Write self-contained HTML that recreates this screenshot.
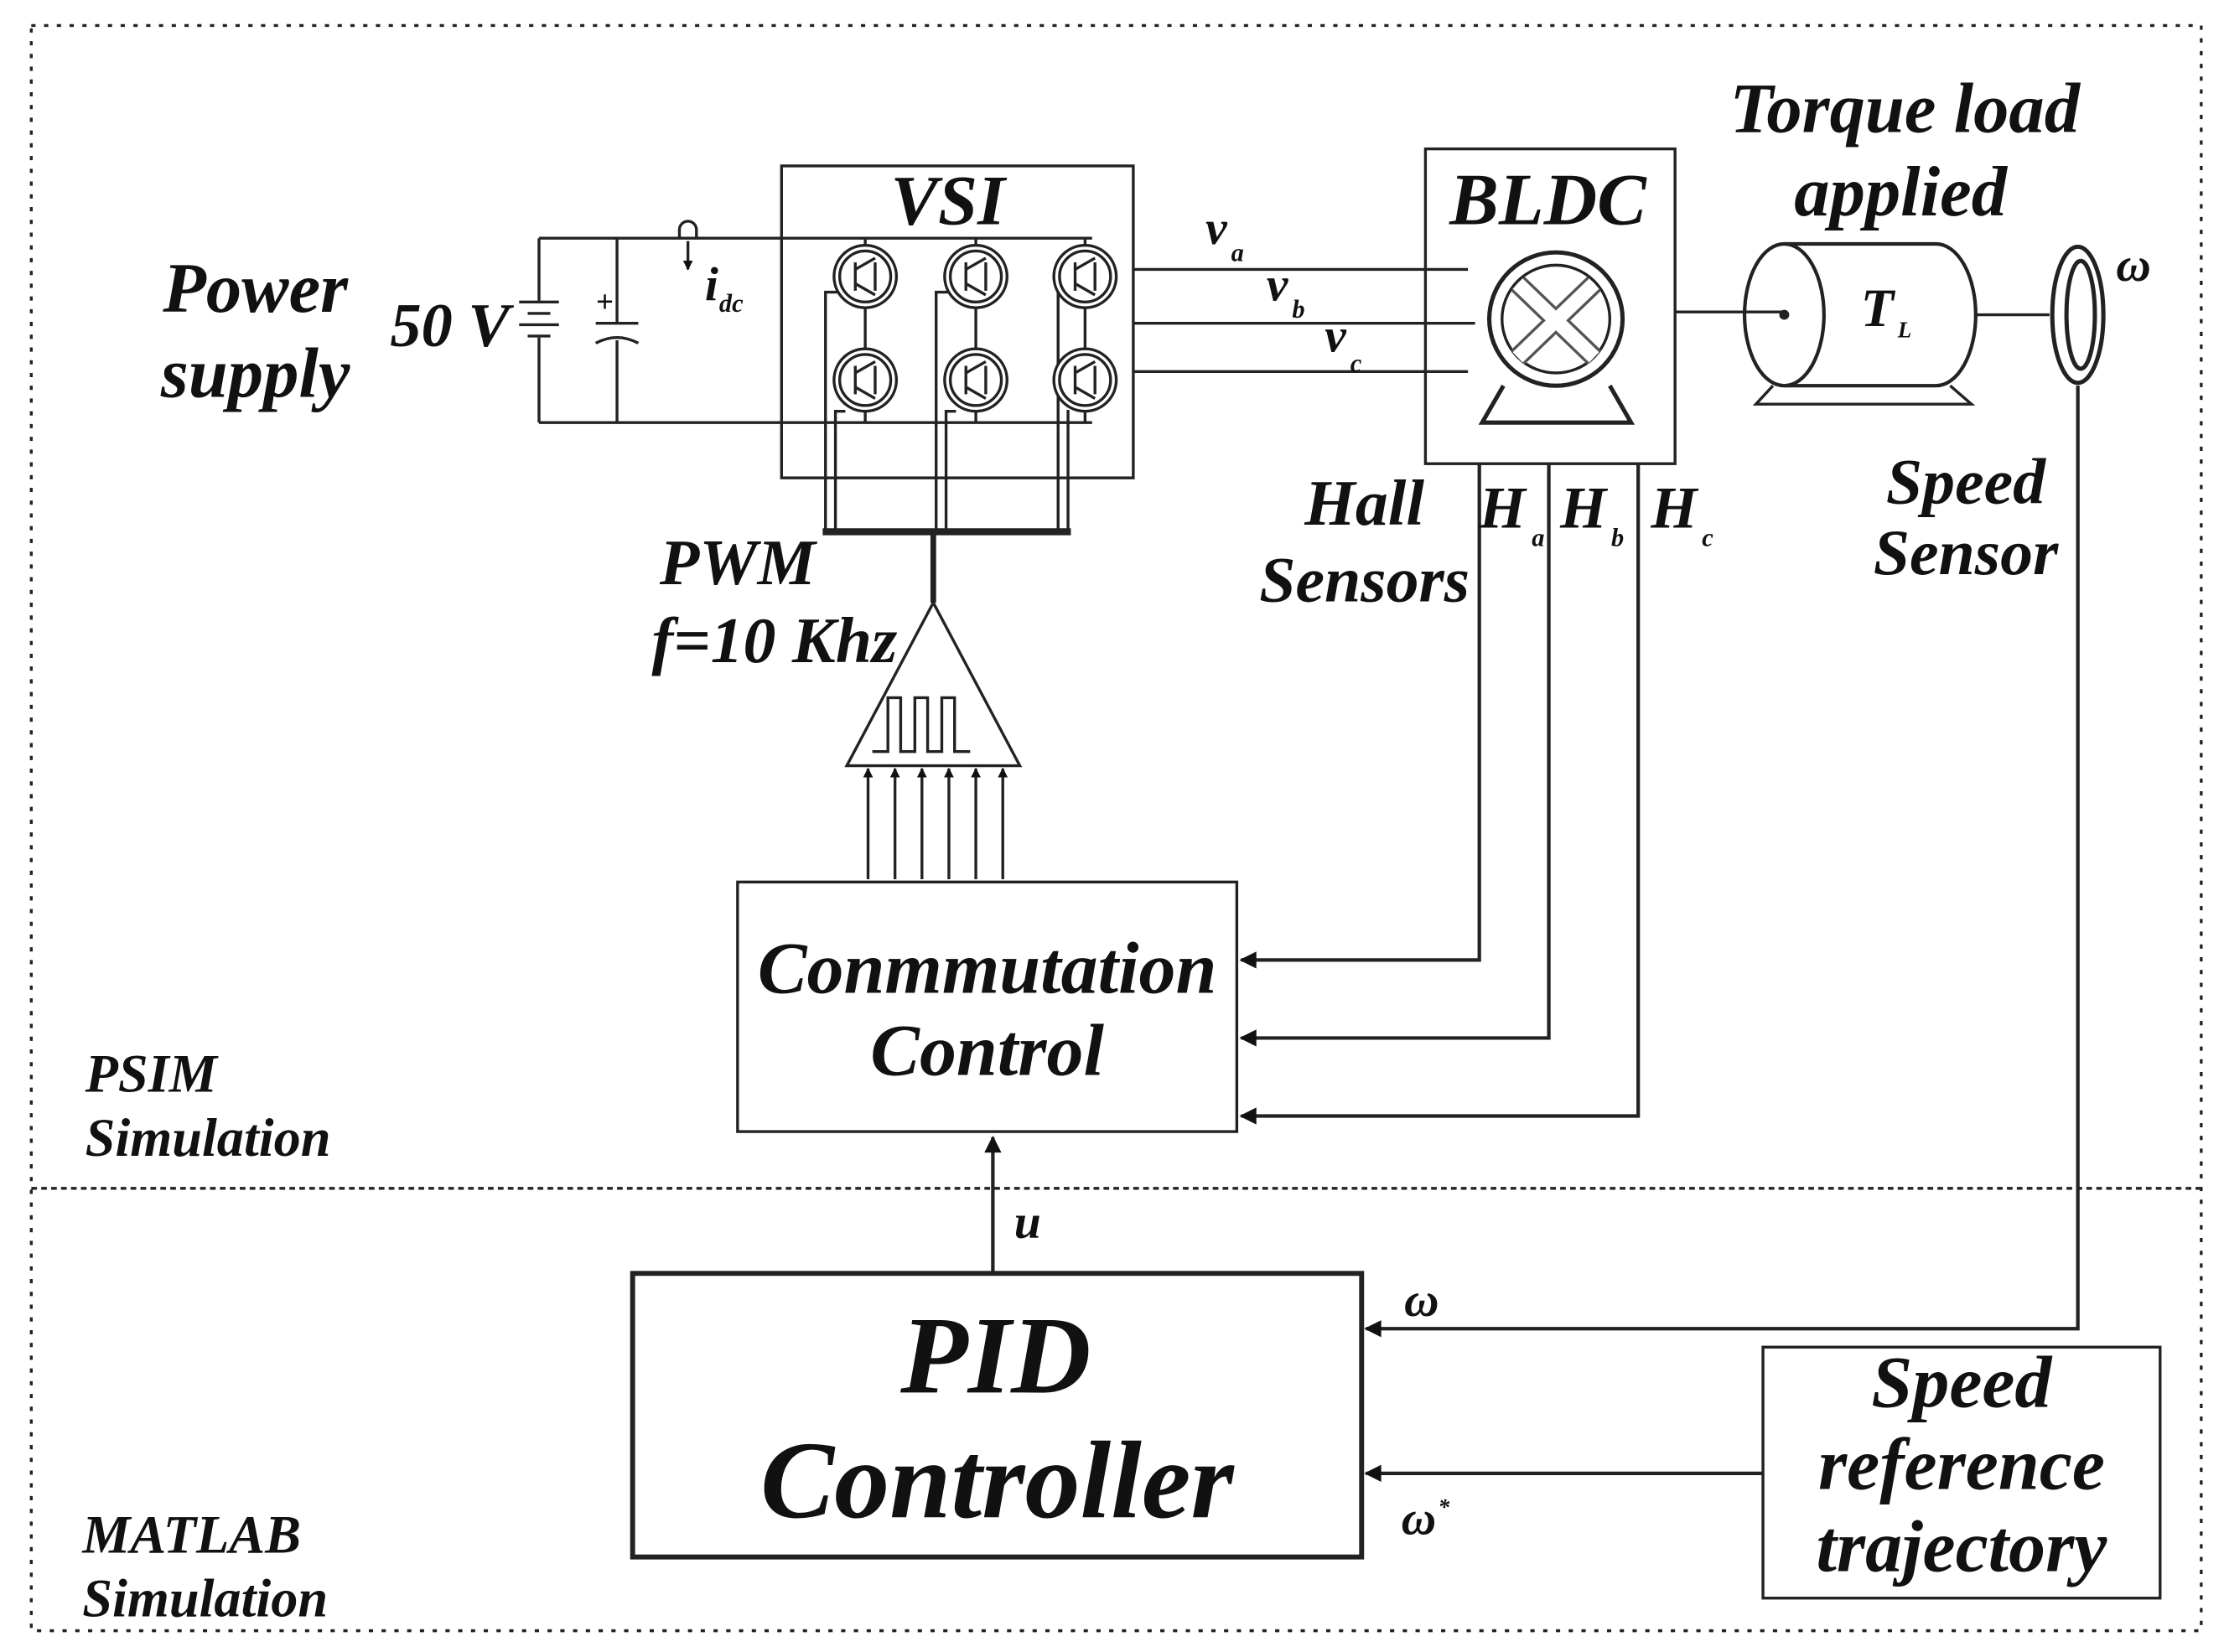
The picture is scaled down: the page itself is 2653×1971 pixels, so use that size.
<!DOCTYPE html>
<html><head><style>html,body{margin:0;padding:0;background:#fff}svg{display:block}</style></head><body>
<svg width="2653" height="1971" viewBox="0 0 1568 1165" xmlns="http://www.w3.org/2000/svg" font-family="Liberation Serif, serif" font-weight="bold" font-style="italic" fill="none" stroke="#222">
<defs><marker id="ar" viewBox="0 0 10 10" refX="9" refY="5" markerWidth="7" markerHeight="9" orient="auto" markerUnits="userSpaceOnUse"><path d="M0,0L10,5L0,10z" fill="#111" stroke="none"/></marker>
<marker id="ar2" viewBox="0 0 10 10" refX="9" refY="5" markerWidth="14" markerHeight="12" orient="auto" markerUnits="userSpaceOnUse"><path d="M0,0L10,5L0,10z" fill="#111" stroke="none"/></marker></defs>
<rect x="22" y="18" width="1530" height="1132" stroke-width="2" stroke-dasharray="3,6"/>
<line x1="22" y1="838" x2="1552" y2="838" stroke-width="2" stroke-dasharray="4,3"/>
<g stroke-width="2">
<line x1="380" y1="168" x2="770" y2="168"/><line x1="380" y1="298" x2="770" y2="298"/>
<line x1="380" y1="168" x2="380" y2="212"/><line x1="380" y1="238" x2="380" y2="298"/>
<line x1="366" y1="213" x2="394" y2="213"/><line x1="372" y1="221" x2="388" y2="221"/><line x1="366" y1="229" x2="394" y2="229"/><line x1="372" y1="237" x2="388" y2="237"/>
<line x1="435" y1="168" x2="435" y2="228"/><line x1="435" y1="240" x2="435" y2="298"/>
<line x1="420" y1="228" x2="450" y2="228"/><path d="M420,242 Q435,234 450,242"/>
<path d="M479,168 V162 A6,6 0 0 1 491,162 V168"/>
</g>
<line x1="485" y1="170" x2="485" y2="190" stroke-width="2" marker-end="url(#ar)"/>
<rect x="551" y="117" width="248" height="220" stroke-width="2"/>
<g stroke-width="2">
<line x1="799" y1="190" x2="1035" y2="190"/><line x1="799" y1="228" x2="1040" y2="228"/><line x1="799" y1="262" x2="1035" y2="262"/>
<line x1="610" y1="168" x2="610" y2="298"/><line x1="688" y1="168" x2="688" y2="298"/><line x1="765" y1="168" x2="765" y2="298"/>
<path d="M582,375 V206 H596"/><path d="M589,375 V290 H596"/>
<path d="M660,375 V206 H674"/><path d="M667,375 V290 H674"/>
<path d="M746,375 V206 H752"/><path d="M753,375 V290 H752"/>
</g>
<g fill="#fff" stroke-width="2">
<circle cx="610" cy="195" r="22"/><circle cx="688" cy="195" r="22"/><circle cx="765" cy="195" r="22"/>
<circle cx="610" cy="268" r="22"/><circle cx="688" cy="268" r="22"/><circle cx="765" cy="268" r="22"/>
<circle cx="610" cy="195" r="18"/><circle cx="688" cy="195" r="18"/><circle cx="765" cy="195" r="18"/>
<circle cx="610" cy="268" r="18"/><circle cx="688" cy="268" r="18"/><circle cx="765" cy="268" r="18"/>
</g>
<g stroke-width="2">
<path d="M603,185V205M603,190L617,182M603,200L617,208M617,185V205"/>
<path d="M681,185V205M681,190L695,182M681,200L695,208M695,185V205"/>
<path d="M758,185V205M758,190L772,182M758,200L772,208M772,185V205"/>
<path d="M603,258V278M603,263L617,255M603,273L617,281M617,258V278"/>
<path d="M681,258V278M681,263L695,255M681,273L695,281M695,258V278"/>
<path d="M758,258V278M758,263L772,255M758,273L772,281M772,258V278"/>
</g>
<line x1="580" y1="375" x2="755" y2="375" stroke-width="5"/>
<line x1="658" y1="375" x2="658" y2="425" stroke-width="4"/>
<path d="M658,425 L719,540 L597,540 Z" stroke-width="2"/>
<path d="M615,530 H626 V492 H635 V530 H645 V492 H654 V530 H664 V492 H673 V530 H684" stroke-width="2"/>
<g stroke-width="2">
<line x1="612" y1="620" x2="612" y2="542" marker-end="url(#ar)"/><line x1="631" y1="620" x2="631" y2="542" marker-end="url(#ar)"/>
<line x1="650" y1="620" x2="650" y2="542" marker-end="url(#ar)"/><line x1="669" y1="620" x2="669" y2="542" marker-end="url(#ar)"/>
<line x1="688" y1="620" x2="688" y2="542" marker-end="url(#ar)"/><line x1="707" y1="620" x2="707" y2="542" marker-end="url(#ar)"/>
</g>
<rect x="1005" y="105" width="176" height="222" stroke-width="2"/>
<circle cx="1097" cy="225" r="47" stroke-width="3"/><circle cx="1097" cy="225" r="38" stroke-width="2"/>
<path d="M1070,200 L1124,252 M1124,200 L1070,252" stroke-width="14" stroke="#555"/>
<path d="M1070,200 L1124,252 M1124,200 L1070,252" stroke-width="10" stroke="#fff"/>
<path d="M1060,272 L1045,298 H1150 L1135,272" stroke-width="3"/>
<line x1="1181" y1="220" x2="1258" y2="220" stroke-width="2"/>
<path d="M1258,172 H1365 A28,50 0 0 1 1365,272 H1258" stroke-width="2.5"/>
<ellipse cx="1258" cy="222" rx="28" ry="50" stroke-width="2.5"/>
<circle cx="1258" cy="222" r="3" fill="#222"/>
<path d="M1250,272 L1238,285 H1390 L1375,272" stroke-width="2"/>
<line x1="1393" y1="222" x2="1445" y2="222" stroke-width="2"/>
<ellipse cx="1465" cy="222" rx="18" ry="48" stroke-width="3"/><ellipse cx="1467" cy="222" rx="10" ry="38" stroke-width="3"/>
<g stroke-width="2.5">
<path d="M1043,327 V677 H875" marker-end="url(#ar2)"/>
<path d="M1092,327 V732 H875" marker-end="url(#ar2)"/>
<path d="M1155,327 V787 H875" marker-end="url(#ar2)"/>
<path d="M1465,272 V937 H963" marker-end="url(#ar2)"/>
<path d="M1243,1039 H963" marker-end="url(#ar2)"/>
<path d="M700,898 V802" marker-end="url(#ar2)"/>
</g>
<rect x="520" y="622" width="352" height="176" stroke-width="2"/>
<rect x="446" y="898" width="514" height="200" stroke-width="3.5"/>
<rect x="1243" y="950" width="280" height="177" stroke-width="2"/>
<g fill="#111" stroke="none">
<text x="180" y="220" font-size="50" text-anchor="middle">Power</text>
<text x="180" y="280" font-size="50" text-anchor="middle">supply</text>
<text x="275" y="244" font-size="44">50 V</text>
<text x="420" y="220" font-size="22">+</text>
<text x="497" y="212" font-size="34">i</text><text x="507" y="220" font-size="18">dc</text>
<text x="628" y="158" font-size="50">VSI</text>
<text x="850" y="172" font-size="34">v</text><text x="868" y="184" font-size="18">a</text>
<text x="893" y="212" font-size="34">v</text><text x="911" y="224" font-size="18">b</text>
<text x="934" y="248" font-size="34">v</text><text x="952" y="262" font-size="18">c</text>
<text x="1022" y="158" font-size="52">BLDC</text>
<text x="1343" y="93" font-size="50" text-anchor="middle">Torque load</text>
<text x="1340" y="152" font-size="50" text-anchor="middle">applied</text>
<text x="1312" y="230" font-size="38">T</text><text x="1338" y="238" font-size="16">L</text>
<text x="1492" y="198" font-size="34">ω</text>
<text x="1386" y="355" font-size="46" text-anchor="middle">Speed</text>
<text x="1386" y="405" font-size="46" text-anchor="middle">Sensor</text>
<text x="962" y="370" font-size="46" text-anchor="middle">Hall</text>
<text x="962" y="424" font-size="46" text-anchor="middle">Sensors</text>
<text x="1043" y="372" font-size="42">H</text><text x="1080" y="385" font-size="18">a</text>
<text x="1100" y="372" font-size="42">H</text><text x="1136" y="385" font-size="18">b</text>
<text x="1164" y="372" font-size="42">H</text><text x="1200" y="385" font-size="18">c</text>
<text x="520" y="412" font-size="46" text-anchor="middle">PWM</text>
<text x="546" y="467" font-size="46" text-anchor="middle">f=10 Khz</text>
<text x="696" y="700" font-size="52" text-anchor="middle">Conmmutation</text>
<text x="696" y="758" font-size="52" text-anchor="middle">Control</text>
<text x="60" y="770" font-size="38">PSIM</text>
<text x="60" y="815" font-size="38">Simulation</text>
<text x="58" y="1095" font-size="38">MATLAB</text>
<text x="58" y="1140" font-size="38">Simulation</text>
<text x="715" y="873" font-size="34">u</text>
<text x="702" y="982" font-size="78" text-anchor="middle">PID</text>
<text x="703" y="1070" font-size="78" text-anchor="middle">Controller</text>
<text x="990" y="928" font-size="34">ω</text>
<text x="988" y="1082" font-size="34">ω</text><text x="1014" y="1068" font-size="16">*</text>
<text x="1383" y="992" font-size="52" text-anchor="middle">Speed</text>
<text x="1383" y="1050" font-size="52" text-anchor="middle">reference</text>
<text x="1383" y="1108" font-size="52" text-anchor="middle">trajectory</text>
</g>
</svg>
</body></html>
